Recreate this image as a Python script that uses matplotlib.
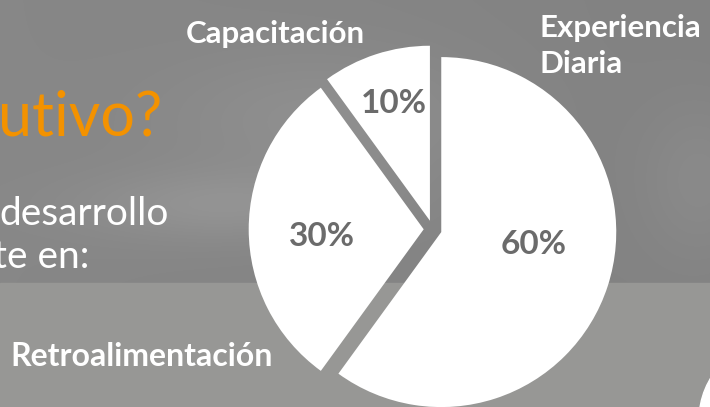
import matplotlib.pyplot as plt
import matplotlib.patches as mpatches
import numpy as np

# pie data (clockwise from 12 o'clock)
categories = ['Experiencia\nDiaria', 'Retroalimentación', 'Capacitación']
values = [60, 30, 10]
pct_labels = ['60%', '30%', '10%']

W, H = 710, 407
fig = plt.figure(figsize=(W / 100, H / 100), dpi=100)
ax = fig.add_axes([0, 0, 1, 1])

# blurred photo-like background in the upper part
yy, xx = np.mgrid[0:H, 0:W]
bg = np.full((H, W), 0.53)
bg += 0.05 * np.exp(-(((xx - 220) / 140) ** 2 + ((yy - 205) / 35) ** 2))
bg += 0.04 * np.exp(-(((xx - 330) / 160) ** 2 + ((yy - 120) / 70) ** 2))
bg -= 0.03 * np.exp(-(((xx - 200) / 120) ** 2 + ((yy - 380) / 60) ** 2))
bg += 0.03 * np.exp(-(((xx - 700) / 60) ** 2 + ((yy - 180) / 80) ** 2))
bg -= 0.02 * (xx / W)
ax.imshow(np.dstack([bg, bg, bg]), extent=(0, W, 0, H), origin='upper',
          aspect='auto', zorder=0)

# lower flat band
ax.add_patch(mpatches.Rectangle((0, 0), W, 124, color='#979795', zorder=1))
# white corner of the box at bottom right
ax.add_patch(mpatches.Circle((780, -13), 81, color='white', zorder=1))

# slide text behind the chart (cut at the left edge, as on the slide)
ax.text(-2, 272, 'utivo?', color='#f39200', fontsize=44, family='Lato',
        va='baseline', ha='left', zorder=2)
ax.text(-1, 182, 'desarrollo', color='white', fontsize=28, family='Lato',
        va='baseline', ha='left', zorder=2)
ax.text(-7, 139, 'te en:', color='white', fontsize=28, family='Lato',
        va='baseline', ha='left', zorder=2)

wedges, _ = ax.pie(values, startangle=90, counterclock=False,
                   center=(432.7, 177.7), radius=175, explode=[9, 9, 9],
                   colors=['white'] * 3,
                   wedgeprops=dict(linewidth=0, zorder=3), frame=True)
ax.set_xlim(0, W)
ax.set_ylim(0, H)
ax.set_aspect('auto')
ax.axis('off')

pct_pos = [(534, 153), (322, 161), (394, 294)]
for (px, py), lab in zip(pct_pos, pct_labels):
    ax.text(px, py, lab, color='#6b6b6b', fontsize=24, fontweight='bold',
            family='Lato', ha='center', va='baseline', zorder=4)

# category names
exp_lines = categories[0].split('\n')
ax.text(540, 370, exp_lines[0], color='white', fontsize=22.5,
        fontweight='bold', family='Lato', ha='left', va='baseline', zorder=4)
ax.text(540, 334, exp_lines[1], color='white', fontsize=22.5,
        fontweight='bold', family='Lato', ha='left', va='baseline', zorder=4)
ax.text(10, 41, categories[1], color='white', fontsize=23,
        fontweight='bold', family='Lato', ha='left', va='baseline', zorder=4)
ax.text(275, 364, categories[2], color='white', fontsize=22.5,
        fontweight='bold', family='Lato', ha='center', va='baseline', zorder=4)

fig.savefig('out.png', dpi=100)
